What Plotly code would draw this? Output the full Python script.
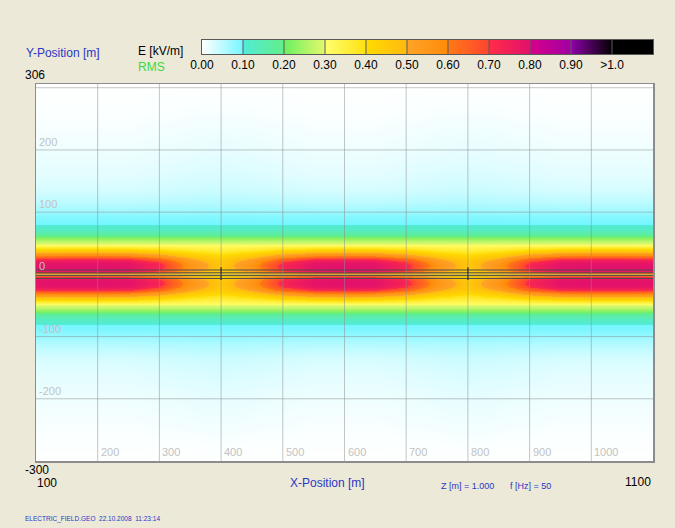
import plotly.graph_objects as go

# ---------------- data ----------------
x_range = [100, 1100]
y_range = [-300, 306]

x_cols = [100, 150, 200, 250, 300, 350, 400, 450, 500, 550, 600,
          650, 700, 750, 800, 850, 900, 950, 1000, 1050, 1100]
# which measured profile applies to each x column
col_profile = ["A2", "A", "A", "A2", "B", "C", "D", "C", "B", "A2", "A",
               "A2", "B", "C", "D", "C", "B", "A2", "A", "A", "A2"]

y_rows = [-300, -260, -220, -190, -160, -135, -115, -100, -90, -80, -70, -62,
          -55, -48, -42, -36, -30, -25, -20, -15, -10, -6, -3, 0,
          3, 6, 10, 15, 20, 25, 30, 36, 42, 48, 55, 62, 70, 80, 90, 100,
          115, 135, 160, 190, 220, 260, 306]

# E [kV/m] RMS across y, mid-span (peak ~0.80)
profile_A = [0.000, 0.003, 0.008, 0.014, 0.020, 0.030, 0.050, 0.072, 0.092, 0.100, 0.135, 0.195,
             0.250, 0.310, 0.385, 0.490, 0.610, 0.720, 0.780, 0.797, 0.797, 0.780, 0.640, 0.470,
             0.640, 0.780, 0.797, 0.797, 0.780, 0.720, 0.610, 0.490, 0.385, 0.310, 0.250, 0.195,
             0.135, 0.100, 0.092, 0.072, 0.050, 0.030, 0.020, 0.014, 0.008, 0.003, 0.000]
profile_A2 = [0.000, 0.003, 0.008, 0.014, 0.020, 0.030, 0.050, 0.072, 0.092, 0.100, 0.135, 0.195,
              0.250, 0.310, 0.380, 0.480, 0.600, 0.710, 0.775, 0.792, 0.792, 0.770, 0.630, 0.470,
              0.630, 0.770, 0.792, 0.792, 0.775, 0.710, 0.600, 0.480, 0.380, 0.310, 0.250, 0.195,
              0.135, 0.100, 0.092, 0.072, 0.050, 0.030, 0.020, 0.014, 0.008, 0.003, 0.000]
profile_B = [0.000, 0.004, 0.010, 0.016, 0.023, 0.033, 0.052, 0.073, 0.092, 0.100, 0.135, 0.195,
             0.250, 0.310, 0.365, 0.450, 0.545, 0.640, 0.700, 0.730, 0.725, 0.690, 0.575, 0.450,
             0.575, 0.690, 0.725, 0.730, 0.700, 0.640, 0.545, 0.450, 0.365, 0.310, 0.250, 0.195,
             0.135, 0.100, 0.092, 0.073, 0.052, 0.033, 0.023, 0.016, 0.010, 0.004, 0.000]
profile_C = [0.000, 0.005, 0.012, 0.018, 0.026, 0.036, 0.054, 0.074, 0.092, 0.100, 0.135, 0.195,
             0.250, 0.310, 0.345, 0.400, 0.460, 0.510, 0.545, 0.560, 0.555, 0.530, 0.470, 0.400,
             0.470, 0.530, 0.555, 0.560, 0.545, 0.510, 0.460, 0.400, 0.345, 0.310, 0.250, 0.195,
             0.135, 0.100, 0.092, 0.074, 0.054, 0.036, 0.026, 0.018, 0.012, 0.005, 0.000]
# at the towers (peak ~0.46)
profile_D = [0.000, 0.006, 0.014, 0.020, 0.028, 0.038, 0.056, 0.075, 0.092, 0.100, 0.135, 0.195,
             0.250, 0.310, 0.335, 0.375, 0.415, 0.440, 0.455, 0.460, 0.455, 0.440, 0.410, 0.380,
             0.410, 0.440, 0.455, 0.460, 0.455, 0.440, 0.415, 0.375, 0.335, 0.310, 0.250, 0.195,
             0.135, 0.100, 0.092, 0.075, 0.056, 0.038, 0.028, 0.020, 0.014, 0.006, 0.000]

conductor_y = [7.0, 2.5, -2.0, -6.5]
tower_x = [400, 800]
tower_y = [-9.0, 11.5]

x_grid = [200, 300, 400, 500, 600, 700, 800, 900, 1000]
y_grid = [-200, -100, 0, 100, 200, 300]
y_labels = [-200, -100, 0, 100, 200]

legend_ticks = [0.0, 0.1, 0.2, 0.3, 0.4, 0.5, 0.6, 0.7, 0.8, 0.9, 1.0]
legend_text = ["0.00", "0.10", "0.20", "0.30", "0.40", "0.50", "0.60", "0.70",
               "0.80", "0.90", ">1.0"]
legend_bounds = [0.0, 1.1]

scale_levels = [0.0, 0.1, 0.1, 0.2, 0.2, 0.3, 0.3, 0.4, 0.4, 0.5, 0.5, 0.6,
                0.6, 0.7, 0.7, 0.8, 0.8, 0.9, 0.9, 1.0, 1.1]
scale_colors = ["#FFFFFF", "#74F6FF", "#52EBD6", "#62EE88", "#6CF060", "#E6F86C",
                "#FFFF6C", "#FFE010", "#FFDC00", "#FFB810", "#FFA428", "#FF8A08",
                "#FF7A14", "#FF4430", "#FF2C48", "#E2106C", "#D8008A", "#A000A4",
                "#8C00A8", "#000000", "#000000"]

# ---------------- build ----------------
profiles = {"A": profile_A, "A2": profile_A2, "B": profile_B, "C": profile_C, "D": profile_D}
e_rms = [[profiles[c][i] for c in col_profile] for i in range(len(y_rows))]
E_MAX = legend_bounds[1]
colorscale = [[lv / E_MAX, c] for lv, c in zip(scale_levels, scale_colors)]

W, H = 675, 528
ML, MR, MT, MB = 36, 22, 30, 67
PW, PH = W - ML - MR, H - MT - MB


def px(xp):
    return (xp - ML) / PW


def py(yp):
    return (H - MB - yp) / PH


FONT = "Liberation Sans, Arial, sans-serif"
BLUE = "#2B36C6"

fig = go.Figure()

fig.add_trace(go.Heatmap(
    x=x_cols, y=y_rows, z=e_rms, zmin=0, zmax=E_MAX, zsmooth="best",
    colorscale=colorscale, showscale=False, hoverinfo="skip",
    xaxis="x", yaxis="y"))

# conductors
cx, cy = [], []
for v in conductor_y:
    cx += [x_range[0], x_range[1], None]
    cy += [v, v, None]
fig.add_trace(go.Scatter(x=cx, y=cy, mode="lines",
                         line=dict(color="#4A4A4A", width=1), hoverinfo="skip",
                         xaxis="x", yaxis="y"))
# towers
tx, ty = [], []
for v in tower_x:
    tx += [v, v, None]
    ty += [tower_y[0], tower_y[1], None]
fig.add_trace(go.Scatter(x=tx, y=ty, mode="lines",
                         line=dict(color="#111111", width=1.3), hoverinfo="skip",
                         xaxis="x", yaxis="y"))

# legend colour bar
fig.add_trace(go.Heatmap(
    x=legend_bounds, y=[0, 1], z=[legend_bounds, legend_bounds],
    zmin=0, zmax=E_MAX, zsmooth="best", colorscale=colorscale,
    showscale=False, hoverinfo="skip", xaxis="x2", yaxis="y2"))

shapes = []
grid_col = "rgba(140,140,140,0.5)"
for g in x_grid:
    shapes.append(dict(type="line", xref="x", yref="y domain", x0=g, x1=g, y0=0, y1=1,
                       line=dict(color=grid_col, width=1), layer="above"))
for g in y_grid:
    shapes.append(dict(type="line", xref="x domain", yref="y", x0=0, x1=1, y0=g, y1=g,
                       line=dict(color=grid_col, width=1), layer="above"))
for t in legend_ticks[1:]:
    shapes.append(dict(type="line", xref="x2", yref="y2 domain", x0=t, x1=t, y0=0, y1=1,
                       line=dict(color="#5A5A5A", width=1), layer="above"))

ann = []
lab_col = "#C2C2C2"
for g in x_grid:
    ann.append(dict(x=g, y=y_range[0], xref="x", yref="y", text=str(g), showarrow=False,
                    xanchor="left", yanchor="bottom", xshift=1, yshift=1,
                    font=dict(size=11, color=lab_col, family=FONT)))
for g in y_labels:
    ann.append(dict(x=x_range[0], y=g, xref="x", yref="y", text=str(g), showarrow=False,
                    xanchor="left", yanchor="bottom", xshift=1, yshift=0,
                    font=dict(size=11, color=lab_col, family=FONT)))


def txt(text, xp, yp, size=12, color="#000000", anchor="left"):
    ann.append(dict(x=px(xp), y=py(yp), xref="paper", yref="paper", text=text,
                    showarrow=False, xanchor=anchor, yanchor="middle",
                    font=dict(size=size, color=color, family=FONT)))


txt("Y-Position [m]", 24, 53, 12, BLUE)
txt(str(y_range[1]), 23, 75, 12)
txt("E [kV/m]", 136, 51, 12)
txt("RMS", 136, 67, 12, "#3ADB3A")
txt(str(y_range[0]), 23, 470, 12)
txt(str(x_range[0]), 35, 483, 12)
txt("X-Position [m]", 288, 483, 12, BLUE)
txt("Z [m] = 1.000", 439, 486, 9, BLUE)
txt("f [Hz] = 50", 508, 486, 9, BLUE)
txt(str(x_range[1]), 653, 482, 12, "#000000", "right")
txt("ELECTRIC_FIELD.GEO&nbsp;&nbsp;22.10.2008&nbsp;&nbsp;11:23:14", 23, 519, 6.5, BLUE)

axis_common = dict(showgrid=False, zeroline=False, ticks="", showline=True, mirror=True)

fig.update_layout(
    width=W, height=H,
    margin=dict(l=ML, r=MR, t=MT, b=MB, pad=0),
    paper_bgcolor="#ECE9D8", plot_bgcolor="#FFFFFF",
    showlegend=False,
    font=dict(family=FONT, size=12, color="#000000"),
    xaxis=dict(range=x_range, domain=[0, 1], anchor="y", showticklabels=False,
               linecolor="#8C8C8C", linewidth=1.5, **axis_common),
    yaxis=dict(range=y_range, domain=[0, py(84)], anchor="x", showticklabels=False,
               linecolor="#8C8C8C", linewidth=1.5, **axis_common),
    xaxis2=dict(range=legend_bounds, domain=[px(202), px(653)], anchor="y2",
                tickmode="array", tickvals=legend_ticks, ticktext=legend_text,
                tickfont=dict(size=12, color="#000000", family=FONT),
                linecolor="#5A5A5A", linewidth=1, **axis_common),
    yaxis2=dict(range=[0, 1], domain=[py(54), py(40)], anchor="x2", showticklabels=False,
                linecolor="#5A5A5A", linewidth=1, **axis_common),
    shapes=shapes, annotations=ann,
)

page_fix = ("document.body.style.margin='0';document.body.style.padding='0';"
            "document.body.style.overflow='hidden';"
            "document.body.style.background='#ECE9D8';")
fig.write_html("out.html", post_script=page_fix,
               config={"displayModeBar": False, "staticPlot": True})
